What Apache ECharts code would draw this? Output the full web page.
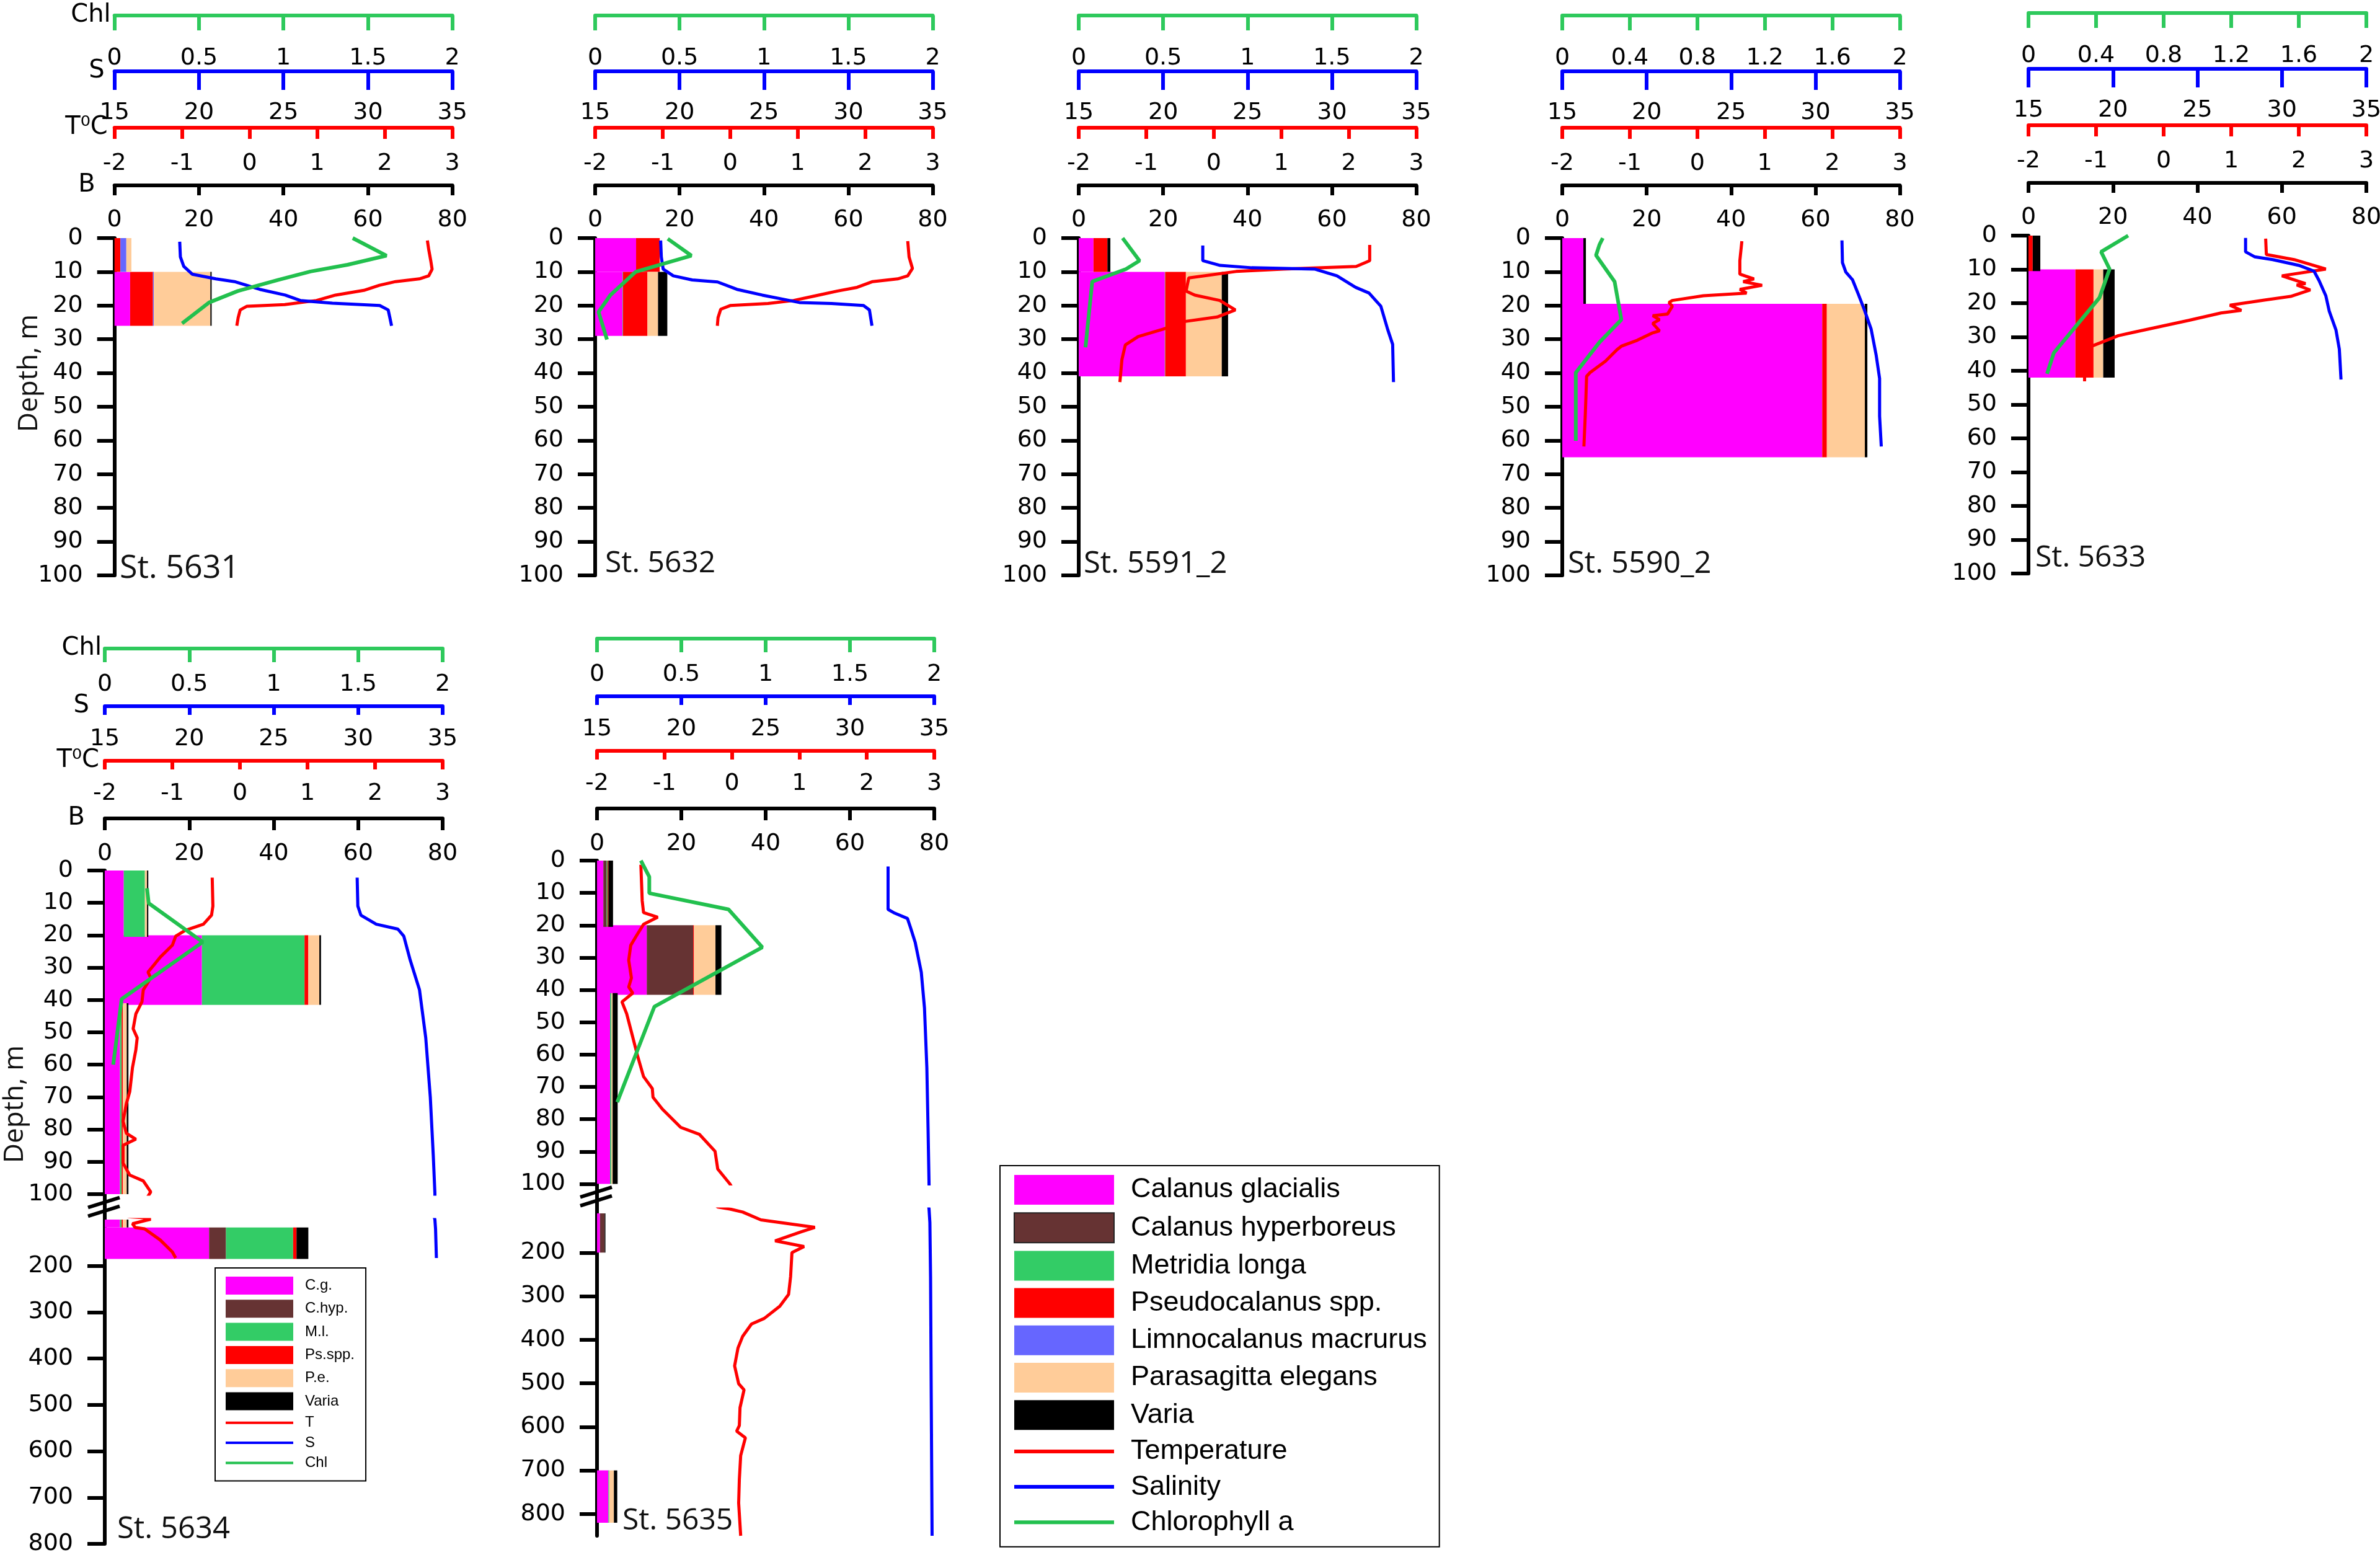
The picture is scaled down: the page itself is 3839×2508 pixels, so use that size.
<!DOCTYPE html>
<html><head><meta charset="utf-8">
<script src="https://cdn.jsdelivr.net/npm/echarts@6/dist/echarts.min.js"></script>
<style>html,body{margin:0;padding:0;background:#fff}#c{width:3839px;height:2508px}</style>
</head><body><div id="c"></div>
<script>
// ---------------- DATA ----------------
const speciesNames = ['Calanus glacialis','Calanus hyperboreus','Metridia longa','Pseudocalanus spp.','Limnocalanus macrurus','Parasagitta elegans','Varia'];
const lineNames = ['Temperature','Salinity','Chlorophyll a'];
const shortNames = {'Calanus glacialis':'C.g.','Calanus hyperboreus':'C.hyp.','Metridia longa':'M.l.','Pseudocalanus spp.':'Ps.spp.','Parasagitta elegans':'P.e.','Varia':'Varia','Temperature':'T','Salinity':'S','Chlorophyll a':'Chl'};
const stationNames = ['St. 5631','St. 5632','St. 5591_2','St. 5590_2','St. 5633','St. 5634','St. 5635'];
const bTicks = [0, 80, 20];      // biomass axis min,max,interval
const tTicks = [-2, 3, 1];       // temperature axis
const sTicks = [15, 35, 5];      // salinity axis
const depthUpper = [0, 100, 10];

// layers: [top, bottom, C.g., C.hyp., M.l., Ps.spp., L.m., P.e., Varia]
const bars5631 = [[0,10, 0,0,0,1.4,1.4,1.2,0],[10,26, 3.7,0,0,5.4,0.2,13.4,0.3]];
const bars5632 = [[0,10, 9.7,0,0,5.6,0,0,0],[10,29, 6.5,0,0.1,5.8,0,2.5,2.2]];
const bars5591 = [[0,10, 3.5,0,0,3.3,0,0,0.7],[10,41, 20.4,0,0.1,4.9,0,8.5,1.5]];
const bars5590 = [[0,19.5, 5.0,0,0,0,0,0,0.6],[19.5,65, 61.6,0,0,1.1,0,9.0,0.6]];
const bars5633 = [[0,10.5, 0,0,0,1.0,0,0,1.8],[10,42, 11.1,0,0,4.3,0,2.3,2.7]];
const bars5634 = [[0,20.5, 4.5,0,5.0,0,0,0.5,0.3],[20,41.5, 23.0,0,24.3,0.9,0,2.6,0.4],[41,117, 3.6,0,0.4,0.3,0,0.9,0.4],[117,185, 24.7,4.0,15.9,0.8,0,0,2.8]];
const bars5635 = [[0,20.5, 1.5,0.8,0.2,0.2,0,0,1.1],[20,41.5, 11.8,11.0,0,0.2,0,5.1,1.4],[41,100, 3.1,0,0.3,0,0,0.3,1.2],[110,200, 0.7,1.1,0,0,0,0,0.2],[700,820, 2.7,0,0.2,0,0,1.1,0.8]];

// profiles: [value, depth]
const temp5631 = [[2.63,0.7],[2.65,3.4],[2.68,6.7],[2.70,9.2],[2.65,11.2],[2.51,12.1],[2.16,12.9],[1.92,14],[1.69,15.5],[1.27,16.9],[0.99,18.5],[0.52,19.7],[-0.04,20.2],[-0.14,21.3],[-0.17,23.6],[-0.19,26]];
const sal5631 = [[18.86,1.1],[18.9,5.6],[19.1,8.4],[19.6,10.7],[21.0,12.1],[22.1,12.9],[23.6,15.2],[25.1,16.9],[26.0,18.5],[27.9,19.3],[30.7,20],[31.2,21.3],[31.3,23.6],[31.4,26]];
const chl5631 = [[1.41,0],[1.61,5.2],[1.38,7.9],[1.16,9.9],[0.97,12.4],[0.73,15.7],[0.56,19.1],[0.40,25.3]];

const temp5632 = [[2.63,0.9],[2.65,5.6],[2.70,9],[2.63,11.2],[2.48,12.1],[2.11,12.9],[1.88,14.6],[1.59,15.7],[1.31,16.9],[0.94,18.5],[0.56,19.4],[0.0,20],[-0.14,21.1],[-0.18,23.6],[-0.19,26]];
const sal5632 = [[18.88,0.7],[18.92,5.6],[19.03,9.2],[19.63,11.2],[20.75,12.4],[22.25,13],[23.4,15.2],[24.9,16.9],[26.0,18],[27.1,19.1],[29.0,19.4],[30.9,20],[31.25,21.3],[31.4,26]];
const chl5632 = [[0.43,0.2],[0.57,5.2],[0.24,10],[0.09,16.9],[0.02,21.9],[0.07,30.1]];

const temp5591 = [[2.31,2],[2.31,6.7],[2.11,8.4],[1.03,9.2],[0.33,9.9],[-0.37,11.8],[-0.41,15.7],[-0.28,16.9],[0.09,18.5],[0.32,21.3],[0.05,23.4],[-0.42,24.7],[-0.75,27],[-1.12,29.2],[-1.31,31.7],[-1.36,36],[-1.39,42.7]];
const sal5591 = [[22.35,2.2],[22.35,6.7],[23.38,8.1],[25.25,8.8],[29.0,9.2],[30.3,11.2],[31.4,14.6],[32.2,16.3],[32.9,20.2],[33.3,27],[33.6,31.5],[33.65,42.7]];
const chl5591 = [[0.26,0],[0.36,6.7],[0.28,9.2],[0.08,12.9],[0.04,32.4]];

const temp5590 = [[0.66,0.9],[0.63,6.7],[0.63,10.7],[0.84,12.1],[0.68,12.9],[0.96,14],[0.63,15.2],[0.73,16.3],[0.09,17.1],[-0.37,18.5],[-0.42,19.1],[-0.37,20.2],[-0.44,22.5],[-0.66,23],[-0.56,24.2],[-0.66,25.3],[-0.56,27.5],[-0.66,28.1],[-0.89,30.3],[-1.12,32],[-1.19,33.1],[-1.36,36.5],[-1.59,39.9],[-1.64,41],[-1.65,47.2],[-1.66,52.8],[-1.68,61.8]];
const sal5590 = [[31.57,0.7],[31.6,7.3],[31.8,10.1],[32.2,12.4],[32.56,16.9],[32.9,21.3],[33.3,27],[33.6,34.8],[33.8,41.6],[33.8,52.8],[33.9,61.8]];
const chl5590 = [[0.24,0],[0.22,2],[0.20,5.1],[0.31,12.9],[0.35,24.2],[0.22,30.9],[0.08,39.9],[0.08,60.1]];

const temp5633 = [[1.51,0.9],[1.52,5.6],[1.93,7.1],[2.40,9.9],[1.75,11.9],[2.10,14.2],[1.97,14.6],[2.17,16.1],[1.88,18],[1.49,19.1],[0.98,20.6],[1.15,22.1],[0.85,22.9],[0.37,25.1],[-0.49,28.8],[-0.67,29.6],[-1.10,33],[-1.15,34.7],[-1.17,38.1],[-1.17,43.1]];
const sal5633 = [[27.85,0.7],[27.85,4.8],[28.4,6.3],[29.46,7.1],[31.0,8.8],[31.9,10.5],[32.2,13.3],[32.6,17.8],[32.8,22.3],[33.2,27.9],[33.4,33.6],[33.5,42.6]];
const chl5633 = [[0.59,0],[0.43,4.8],[0.48,9.9],[0.42,18.4],[0.15,34.7],[0.11,40.9]];

const temp5634 = [[-0.41,2.2],[-0.40,11],[-0.42,13.8],[-0.54,16.6],[-0.81,18.5],[-0.95,20.3],[-1.0,23.1],[-1.18,26.8],[-1.25,28.6],[-1.36,31.4],[-1.32,33.2],[-1.43,36.9],[-1.45,40.6],[-1.54,44.3],[-1.58,48.9],[-1.52,51.7],[-1.54,55.4],[-1.59,60.9],[-1.63,68.3],[-1.68,72],[-1.73,77.5],[-1.68,81.2],[-1.54,83],[-1.73,84.9],[-1.73,90.4],[-1.63,94.1],[-1.43,95.9],[-1.32,99.3],[-1.40,102],[-1.59,109],[-1.55,117],[-1.41,120],[-1.18,144],[-1.0,170],[-0.95,183]];
const sal5634 = [[29.94,2.2],[29.98,11],[30.16,13.8],[31.07,16.6],[32.35,18.1],[32.7,20.3],[33.08,27.7],[33.63,36.9],[34.0,51.7],[34.27,70.1],[34.45,88.6],[34.54,99.6],[34.58,120],[34.63,183]];
const chl5634 = [[0.25,5.5],[0.26,10.1],[0.58,22.1],[0.10,39.7],[0.05,60]];

const temp5635 = [[-1.35,1.3],[-1.34,6.8],[-1.33,12.4],[-1.31,16.1],[-1.10,17.5],[-1.31,19.7],[-1.42,23.4],[-1.50,26.2],[-1.53,30.8],[-1.49,36.3],[-1.53,39.1],[-1.47,41],[-1.63,43.7],[-1.56,47.4],[-1.49,53],[-1.40,60.3],[-1.31,66.8],[-1.18,70.5],[-1.17,73.2],[-1.03,76.9],[-0.76,82.5],[-0.48,84.7],[-0.25,89.9],[-0.21,95.4],[-0.03,100],[0.16,107],[0.43,125],[1.23,142],[1.03,152],[0.64,173],[1.07,186],[0.89,200],[0.87,255],[0.84,296],[0.71,323],[0.48,351],[0.29,364],[0.16,392],[0.09,419],[0.04,460],[0.10,501],[0.18,515],[0.12,556],[0.11,597],[0.07,610],[0.20,625],[0.13,666],[0.11,721],[0.10,775],[0.13,850]];
const sal5635 = [[32.26,1.8],[32.26,15.1],[32.59,16.1],[33.41,17.9],[33.59,20.7],[33.87,25.3],[34.23,34.5],[34.42,45.6],[34.56,64],[34.63,82.5],[34.69,100],[34.74,131],[34.78,255],[34.82,529],[34.87,850]];
const chl5635 = [[0.26,0],[0.31,5],[0.31,10.1],[0.78,15.1],[0.98,26.8],[0.34,45.2],[0.12,74.7]];

const lowerTicks = [200,300,400,500,600,700,800];

// ---------------- STYLE / LAYOUT ----------------
const speciesColors = ['#ff00ff','#663333','#33cc66','#ff0000','#6666ff','#ffcc99','#000000'];
const lineColors = ['#ff0000','#0000ff','#22c04e'];
const axisColors = {B:'#000000', T:'#ff0000', S:'#0000ff', C:'#2ec95c'};
const AXF = 'DejaVu Sans';

const rowStyle = [
  {offset:{B:85,T:178,S:269,C:359}, margin:{B:37,T:39,S:48,C:50}, tick:{B:16,T:18,S:30,C:24}, gap:{B:31,T:11,S:16,C:6}},
  {offset:{B:84,T:177,S:265,C:358}, margin:{B:38,T:34,S:34,C:39}, tick:{B:19,T:14,S:14,C:22}, gap:{B:32,T:9,S:25,C:5}}
];

const panels = [
  {st:0, row:0, bars:bars5631, T:temp5631, S:sal5631, C:chl5631, chlInt:0.5, left:184.7, width:545, segs:[[0,100,384,544]], names:true, title:[193,891,52]},
  {st:1, row:0, bars:bars5632, T:temp5632, S:sal5632, C:chl5632, chlInt:0.5, left:960, width:544.5, segs:[[0,100,384,544]], title:[976,885,48]},
  {st:2, row:0, bars:bars5591, T:temp5591, S:sal5591, C:chl5591, chlInt:0.5, left:1740, width:544.5, segs:[[0,100,384,544]], title:[1748,886,49]},
  {st:3, row:0, bars:bars5590, T:temp5590, S:sal5590, C:chl5590, chlInt:0.4, left:2520, width:544.5, segs:[[0,100,384,544]], title:[2529,886,49]},
  {st:4, row:0, bars:bars5633, T:temp5633, S:sal5633, C:chl5633, chlInt:0.4, left:3272, width:545, segs:[[0,100,380,545]], title:[3283,876,48]},
  {st:5, row:1, bars:bars5634, T:temp5634, S:sal5634, C:chl5634, chlInt:0.5, left:169, width:545, segs:[[0,100,1404,522],[100,800,1967,523]], names:true, title:[189,2443,49]},
  {st:6, row:1, bars:bars5635, T:temp5635, S:sal5635, C:chl5635, chlInt:0.5, left:963, width:544, segs:[[0,100,1388,521.5],[100,850,1950,527]], title:[1004,2429,48]}
];

const option = {backgroundColor:'#ffffff', animation:false, grid:[], xAxis:[], yAxis:[], series:[], title:[], graphic:[], legend:[]};

function xAx(gridIndex, key, min, max, interval, visible, rs, showName) {
  const nm = {B:'B', T:'T\u2070C', S:'S', C:'Chl'}[key];
  return {
    type:'value', gridIndex, position:'top', min, max, interval, show:visible,
    offset: rs.offset[key],
    axisLine:{show:true, onZero:false, lineStyle:{color:axisColors[key], width:6}},
    axisTick:{show:true, inside:true, length:rs.tick[key], lineStyle:{color:axisColors[key], width:6}},
    axisLabel:{show:true, inside:true, margin:rs.margin[key], color:'#000', fontFamily:AXF, fontSize:38, showMinLabel:true, showMaxLabel:true},
    splitLine:{show:false},
    name: showName ? nm : '', nameLocation:'start', nameGap: rs.gap[key], nameMoveOverlap:false,
    nameTextStyle:{color:'#000', fontFamily:AXF, fontSize:40, padding: key==='B' ? [0,0,22,0] : (key==='S' ? [14,0,0,0] : 0)}
  };
}

function barSeries(layers, sp, xi, yi, dmin, dmax) {
  const data = [];
  layers.forEach(L => {
    let x0 = 0;
    for (let k = 0; k < sp; k++) x0 += L[2+k];
    const w = L[2+sp];
    if (!(w > 0)) return;
    const d0 = Math.max(L[0], dmin), d1 = Math.min(L[1], dmax);
    if (d1 <= d0) return;
    data.push([x0, x0 + w, d0, d1]);
  });
  if (!data.length) return null;
  const col = speciesColors[sp];
  return {
    type:'custom', name:speciesNames[sp], xAxisIndex:xi, yAxisIndex:yi, z:2,
    itemStyle:{color:col},
    encode:{x:[0,1], y:[2,3]},
    renderItem:(params, api) => {
      const p0 = api.coord([api.value(0), api.value(2)]);
      const p1 = api.coord([api.value(1), api.value(3)]);
      return {type:'rect', shape:{x:p0[0], y:p0[1], width:p1[0]-p0[0], height:p1[1]-p0[1]}, style:{fill:col}};
    },
    data
  };
}

function lineSeries(name, color, width, data, xi, yi) {
  return {type:'line', name, xAxisIndex:xi, yAxisIndex:yi, data, symbol:'none', showSymbol:false,
    lineStyle:{color, width}, itemStyle:{color}, clip:true, z:4, silent:true};
}

panels.forEach(p => {
  const rs = rowStyle[p.row];
  p.segs.forEach((seg, si) => {
    const [dmin, dmax, top, height] = seg;
    const gIdx = option.grid.length;
    option.grid.push({left:p.left, top, width:p.width, height, containLabel:false, outerBoundsMode:'none'});
    const vis = si === 0;
    const showName = !!p.names && vis;
    const xB = option.xAxis.length;
    option.xAxis.push(xAx(gIdx,'B',bTicks[0],bTicks[1],bTicks[2],vis,rs,showName));
    const xT = option.xAxis.length;
    option.xAxis.push(xAx(gIdx,'T',tTicks[0],tTicks[1],tTicks[2],vis,rs,showName));
    const xS = option.xAxis.length;
    option.xAxis.push(xAx(gIdx,'S',sTicks[0],sTicks[1],sTicks[2],vis,rs,showName));
    const xC = option.xAxis.length;
    option.xAxis.push(xAx(gIdx,'C',0,2,p.chlInt,vis,rs,showName));
    const yI = option.yAxis.length;
    const isLower = dmin > 0;
    const y = {
      type:'value', gridIndex:gIdx, inverse:true, min:dmin, max:dmax,
      axisLine:{show:true, onZero:false, lineStyle:{color:'#000', width:6}},
      axisTick:{show:true, inside:false, length:28, lineStyle:{color:'#000', width:6}},
      axisLabel:{margin:51, color:'#000', fontFamily:AXF, fontSize:38, showMinLabel:true, showMaxLabel:true},
      splitLine:{show:false}
    };
    if (isLower) {
      y.axisTick.customValues = lowerTicks;
      y.axisLabel.customValues = lowerTicks;
    } else {
      y.interval = depthUpper[2];
    }
    option.yAxis.push(y);
    for (let sp = 0; sp < speciesNames.length; sp++) {
      const s = barSeries(p.bars, sp, xB, yI, dmin, dmax);
      if (s) option.series.push(s);
    }
    option.series.push(lineSeries(lineNames[0], lineColors[0], 5, p.T, xT, yI));
    option.series.push(lineSeries(lineNames[1], lineColors[1], 5, p.S, xS, yI));
    option.series.push(lineSeries(lineNames[2], lineColors[2], 6, p.C, xC, yI));
  });
  const [tx, ty, tf] = p.title;
  option.title.push({text:stationNames[p.st], left:tx, top:ty, padding:0,
    textStyle:{fontFamily:'Open Sans', fontSize:tf, fontWeight:'normal', color:'#111', lineHeight:tf}});
  // axis break marks for two-segment panels
  if (p.segs.length > 1) {
    const up = p.segs[0], lo = p.segs[1];
    const yb = up[2] + up[3], yt = lo[2];
    const xa = p.left, mid = (yb + yt) / 2;
    option.graphic.push({type:'line', shape:{x1:xa, y1:yb, x2:xa, y2:yt}, style:{stroke:'#000', lineWidth:6}, z:10});
    option.graphic.push({type:'line', shape:{x1:xa-27, y1:mid+1, x2:xa+24, y2:mid-15}, style:{stroke:'#000', lineWidth:6}, z:11});
    option.graphic.push({type:'line', shape:{x1:xa-27, y1:mid+15, x2:xa+24, y2:mid-1}, style:{stroke:'#000', lineWidth:6}, z:11});
  }
});

// Depth labels
option.graphic.push({type:'text', x:47, y:602, rotation:Math.PI/2, style:{text:'Depth, m', fontFamily:'Open Sans', fontSize:44, fill:'#111', align:'center', verticalAlign:'middle'}});
option.graphic.push({type:'text', x:24, y:1781, rotation:Math.PI/2, style:{text:'Depth, m', fontFamily:'Open Sans', fontSize:44, fill:'#111', align:'center', verticalAlign:'middle'}});

// Legends
const bigData = speciesNames.map(n => n === 'Calanus hyperboreus'
    ? {name:n, icon:'rect', itemStyle:{borderColor:'#222', borderWidth:2}}
    : {name:n, icon:'rect'})
  .concat(lineNames.map(n => ({name:n, itemStyle:{opacity:0}})));
option.legend.push({
  show:true, orient:'vertical', left:1613, top:1880, padding:[15,20,17,20],
  itemWidth:161, itemHeight:48, itemGap:12.2, borderColor:'#000', borderWidth:2, backgroundColor:'#fff',
  selectedMode:false, data:bigData, lineStyle:{width:6},
  textStyle:{fontFamily:'Liberation Sans', fontSize:45, color:'#000', padding:[0,0,0,22]}
});
const smallData = ['Calanus glacialis','Calanus hyperboreus','Metridia longa','Pseudocalanus spp.','Parasagitta elegans','Varia']
  .map(n => ({name:n, icon:'rect'}))
  .concat(lineNames.map(n => ({name:n, itemStyle:{opacity:0}})));
option.legend.push({
  show:true, orient:'vertical', left:347, top:2045, padding:[14,18,17,15],
  itemWidth:109, itemHeight:29, itemGap:8.3, borderColor:'#000', borderWidth:2, backgroundColor:'#fff',
  selectedMode:false, data:smallData, formatter:n => shortNames[n] || n, lineStyle:{width:4},
  textStyle:{fontFamily:'Liberation Sans', fontSize:24, color:'#000', padding:[0,0,0,14]}
});

const chart = echarts.init(document.getElementById('c'), null, {renderer:'canvas', width:3839, height:2508});
chart.setOption(option);
</script></body></html>
